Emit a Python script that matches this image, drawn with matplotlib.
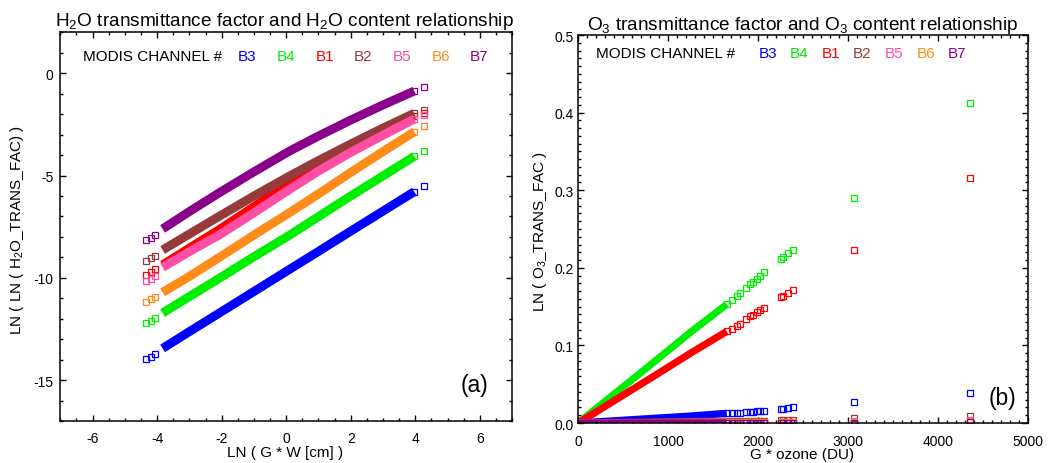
import matplotlib
matplotlib.use('Agg')
import matplotlib.pyplot as plt
from matplotlib.ticker import MultipleLocator, FormatStrFormatter

plt.rcParams['font.family'] = ['Liberation Sans', 'DejaVu Sans']
plt.rcParams['mathtext.fontset'] = 'custom'
plt.rcParams['mathtext.rm'] = 'Liberation Sans'
plt.rcParams['mathtext.it'] = 'Liberation Sans:italic'
plt.rcParams['axes.unicode_minus'] = False

# Bandas MODIS en el orden en que se dibujan
bands = ['B3', 'B4', 'B1', 'B2', 'B5', 'B6', 'B7']
colors = ['#0000ff', '#00ee00', '#ff0000', '#963a3a', '#ff4fa3', '#ff8c1a', '#8b008b']

# Panel (a): LN(G*W) vs LN(LN(H2O trans fac))
h2o_x = [-4.34, -4.20, -4.06, -3.83, -3.00, -2.05, -1.00, 0.12, 1.00, 2.00, 3.00, 3.97, 4.27]
h2o_b3 = [-13.97, -13.85, -13.72, -13.45, -12.63, -11.70, -10.67, -9.57, -8.71, -7.72, -6.74, -5.79, -5.53]
h2o_b4 = [-12.21, -12.09, -11.97, -11.72, -10.92, -10.00, -8.97, -7.90, -7.01, -6.00, -5.02, -4.06, -3.79]
h2o_b1 = [-9.86, -9.72, -9.57, -9.37, -8.55, -7.62, -6.52, -5.32, -4.45, -3.58, -2.78, -2.08, -1.96]
h2o_b2 = [-9.16, -9.04, -8.92, -8.64, -7.86, -6.97, -6.00, -5.01, -4.27, -3.46, -2.68, -1.96, -1.79]
h2o_b5 = [-10.17, -10.05, -9.93, -9.49, -8.72, -7.88, -6.82, -5.66, -4.78, -3.87, -3.03, -2.24, -2.04]
h2o_b6 = [-11.20, -11.06, -10.93, -10.71, -9.93, -8.98, -7.91, -6.80, -5.90, -4.85, -3.83, -2.86, -2.60]
h2o_b7 = [-8.15, -8.03, -7.91, -7.61, -6.76, -5.82, -4.82, -3.79, -3.07, -2.29, -1.55, -0.87, -0.69]
h2o_dense = (3, 12)   # tramo denso (banda continua)

# Panel (b): G*ozone vs LN(O3 trans fac)
o3_x = [0, 420, 837, 1250, 1652, 1708, 1763, 1800, 1867, 1911, 1941, 1985, 2022, 2067,
        2252, 2281, 2337, 2385, 3070, 4356]
o3_b3 = [0.0, 0.003, 0.006, 0.009, 0.0125, 0.0130, 0.0133, 0.0135, 0.0140, 0.0143, 0.0146,
         0.0150, 0.0155, 0.0159, 0.0180, 0.0184, 0.0190, 0.0200, 0.0267, 0.0383]
o3_b4 = [0.0, 0.039, 0.078, 0.117, 0.153, 0.159, 0.164, 0.167, 0.174, 0.179, 0.182,
         0.186, 0.190, 0.194, 0.211, 0.214, 0.219, 0.223, 0.290, 0.413]
o3_b1 = [0.0, 0.030, 0.060, 0.090, 0.118, 0.121, 0.125, 0.128, 0.134, 0.1375, 0.1396,
         0.143, 0.146, 0.148, 0.162, 0.164, 0.168, 0.172, 0.223, 0.316]
o3_b2 = [0.0, 0.0006, 0.0012, 0.0018, 0.0024, 0.0025, 0.0026, 0.0027, 0.0028, 0.0029, 0.0029,
         0.0030, 0.0031, 0.0031, 0.0035, 0.0035, 0.0036, 0.0037, 0.0060, 0.0094]
o3_b5 = [0.0, 0.0003, 0.0006, 0.0009, 0.0012, 0.0012, 0.0013, 0.0013, 0.0014, 0.0014, 0.0014,
         0.0015, 0.0015, 0.0015, 0.0017, 0.0017, 0.0018, 0.0018, 0.0030, 0.0045]
o3_b6 = [0.0, 0.0002, 0.0004, 0.0006, 0.0008, 0.0008, 0.0008, 0.0009, 0.0009, 0.0009, 0.0009,
         0.0010, 0.0010, 0.0010, 0.0011, 0.0011, 0.0011, 0.0012, 0.0018, 0.0028]
o3_b7 = [0.0, 0.0001, 0.0001, 0.0002, 0.0002, 0.0002, 0.0002, 0.0002, 0.0002, 0.0002, 0.0002,
         0.0002, 0.0002, 0.0002, 0.0003, 0.0003, 0.0003, 0.0003, 0.0005, 0.0008]
o3_dense = (0, 5)


def draw_panel(ax, x, series, dense, lw):
    i0, i1 = dense
    for ys, c in zip(series, colors):
        # banda densa de puntos
        ax.plot(x[i0:i1], ys[i0:i1], '-', color=c, lw=lw, solid_capstyle='butt')
        # cuadrados abiertos (solo fuera de la banda)
        xs = x[:i0] + x[i1 - 1:]
        yv = ys[:i0] + ys[i1 - 1:]
        ax.plot(xs, yv, 's', mfc='none', mec=c, ms=3.7, mew=0.9, ls='none')


def style_axes(ax, xmaj, xmin, ymaj, ymin, xpad, ypad):
    ax.xaxis.set_major_locator(MultipleLocator(xmaj))
    ax.xaxis.set_minor_locator(MultipleLocator(xmin))
    ax.yaxis.set_major_locator(MultipleLocator(ymaj))
    ax.yaxis.set_minor_locator(MultipleLocator(ymin))
    ax.tick_params(which='both', direction='in', top=True, right=True, width=1.0)
    ax.tick_params(which='major', length=4.5, labelsize=10)
    ax.tick_params(which='minor', length=2.2)
    ax.tick_params(axis='x', pad=xpad)
    ax.tick_params(axis='y', pad=ypad)
    for s in ax.spines.values():
        s.set_linewidth(1.1)


fig = plt.figure(figsize=(10.51, 4.64), dpi=100)
ax1 = fig.add_axes([0.0574, 0.0905, 0.4298, 0.8377])
ax2 = fig.add_axes([0.5500, 0.0862, 0.4282, 0.8362])

draw_panel(ax1, h2o_x, [h2o_b3, h2o_b4, h2o_b1, h2o_b2, h2o_b5, h2o_b6, h2o_b7], h2o_dense, 6.4)
ax1.set_xlim(-7, 7)
ax1.set_ylim(-17, 2)
style_axes(ax1, 2, 0.5, 5, 1, 7, 5)

draw_panel(ax2, o3_x, [o3_b3, o3_b4, o3_b1, o3_b2, o3_b5, o3_b6, o3_b7], o3_dense, 5.2)
ax2.set_xlim(0, 5000)
ax2.set_ylim(0, 0.5)
ax2.yaxis.set_major_formatter(FormatStrFormatter('%.1f'))
style_axes(ax2, 1000, 100, 0.1, 0.01, 8, 3)

# Leyenda de canales
ax1.text(0.050, 0.939, 'MODIS CHANNEL #', transform=ax1.transAxes, fontsize=11, va='center')
for i, (b, c) in enumerate(zip(bands, colors)):
    ax1.text(0.393 + i * 0.0857, 0.939, b, color=c, transform=ax1.transAxes, fontsize=11, va='center')
ax2.text(0.040, 0.954, 'MODIS CHANNEL #', transform=ax2.transAxes, fontsize=11, va='center')
for i, (b, c) in enumerate(zip(bands, colors)):
    ax2.text(0.4007 + i * 0.0702, 0.954, b, color=c, transform=ax2.transAxes, fontsize=11, va='center')

# Titulos y etiquetas
fig.text(284 / 1051, 1 - 26 / 464, 'H$_2$O transmittance factor and H$_2$O content relationship',
         ha='center', va='baseline', fontsize=13.7)
fig.text(803 / 1051, 1 - 29.5 / 464, 'O$_3$ transmittance factor and O$_3$ content relationship',
         ha='center', va='baseline', fontsize=13.7)
fig.text(285 / 1051, 1 - 453 / 464, 'LN ( G * W [cm] )', ha='center', va='center', fontsize=11)
fig.text(802 / 1051, 1 - 455 / 464, 'G * ozone (DU)', ha='center', va='center', fontsize=11)
fig.text(17 / 1051, 1 - 230 / 464, 'LN ( LN ( H$_2$O_TRANS_FAC) )', rotation=90,
         ha='center', va='center', fontsize=11)
fig.text(540 / 1051, 1 - 232 / 464, 'LN ( O$_3$_TRANS_FAC )', rotation=90,
         ha='center', va='center', fontsize=11)
fig.text(474 / 1051, 1 - 386 / 464, '(a)', ha='center', va='center', fontsize=16.5)
fig.text(1003 / 1051, 1 - 399 / 464, '(b)', ha='center', va='center', fontsize=16.5)

fig.savefig('out.png', dpi=100)
